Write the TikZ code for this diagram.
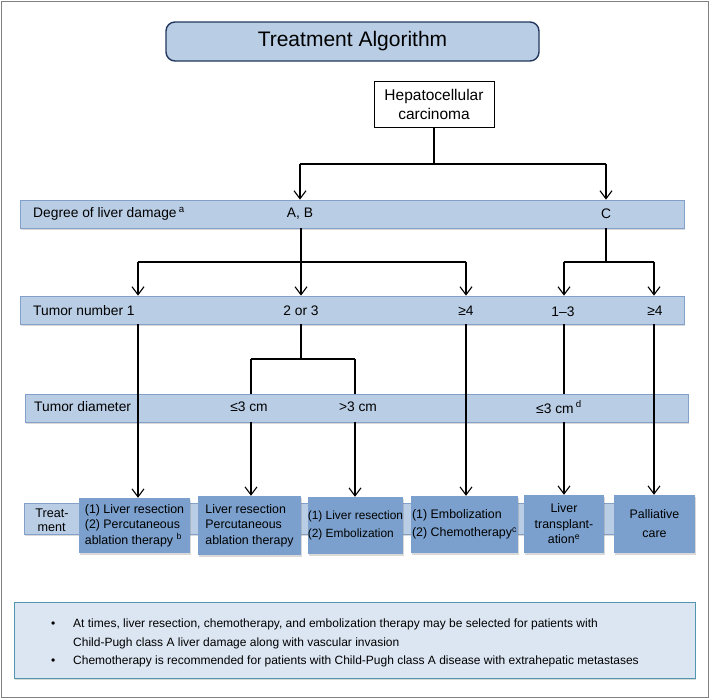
\documentclass[tikz,border=0pt]{standalone}
\usepackage{fontspec}
\setmainfont{Liberation Sans}
\usetikzlibrary{arrows.meta,shadows}
\definecolor{barfill}{RGB}{185,205,229}
\definecolor{barline}{RGB}{130,160,200}
\definecolor{boxfill}{RGB}{123,160,205}
\definecolor{titleline}{RGB}{35,55,95}
\definecolor{notefill}{RGB}{220,230,242}
\definecolor{noteline}{RGB}{80,150,175}
\definecolor{framegray}{RGB}{128,128,128}
\begin{document}
\begin{tikzpicture}[x=1pt,y=-1pt,
  shad/.style={drop shadow={shadow xshift=1pt,shadow yshift=-2pt,opacity=0.3}},
  bar/.style={draw=barline,fill=barfill,line width=0.8pt,inner sep=0pt,shad},
  tbox/.style={fill=boxfill,inner sep=0pt,align=left,shad,font=\fontsize{12.4}{15.5}\selectfont},
  lbl/.style={inner sep=0pt,font=\fontsize{13.8}{16}\selectfont},
  ln/.style={line width=1.1pt},
  arr/.style={ln,-{Straight Barb[length=8pt,width=12pt,line width=1.1pt]}}
]
\useasboundingbox (0,0) rectangle (710,699);
\draw[framegray,line width=1.2pt] (1.5,1.5) rectangle (708.5,697.5);

% title
\node[draw=titleline,fill=barfill,line width=1.4pt,rounded corners=9pt,minimum width=373pt,minimum height=39pt,inner sep=0pt,font=\fontsize{21}{24}\selectfont] (title) at (352.5,41.5) {Treatment Algorithm};

% start box
\node[draw=black,fill=white,line width=1pt,minimum width=120pt,minimum height=46pt,inner sep=0pt,align=center,font=\fontsize{15.5}{19}\selectfont] (hep) at (434,104) {Hepatocellular\\carcinoma};

% bars
\node[bar,minimum width=664pt,minimum height=28pt] (deg) at (352,214) {};
\node[bar,minimum width=664pt,minimum height=28pt] (tum) at (352,310) {};
\node[bar,minimum width=663pt,minimum height=28pt] (dia) at (356.5,408) {};
\node[bar,minimum width=666pt,minimum height=31pt] (trt) at (357,518.5) {};

% bar labels
\node[lbl,anchor=west] (degl) at (33,214) {Degree of liver damage\,\textsuperscript{a}};
\node[lbl] (ab) at (300,214) {A, B};
\node[lbl] (c) at (606,214) {C};
\node[lbl,anchor=west] (tuml) at (33,311) {Tumor number 1};
\node[lbl] (n23) at (301,311) {2 or 3};
\node[lbl] (n4a) at (466,311) {≥4};
\node[lbl] (n13) at (563,312) {1–3};
\node[lbl] (n4b) at (655,311) {≥4};
\node[lbl,anchor=west] (dial) at (34,407) {Tumor diameter};
\node[lbl] (d1) at (249,407) {≤3 cm};
\node[lbl] (d2) at (358,407) {>3 cm};
\node[lbl] (d3) at (559,407) {≤3 cm\,\textsuperscript{d}};
\node[inner sep=0pt,align=left,font=\fontsize{12.6}{13.5}\selectfont] (trtl) at (52,520) {Treat-\\\,ment};

% treatment boxes
\node[tbox,minimum width=111pt,minimum height=55pt] (b1) at (134.5,525.5) {(1) Liver resection\\(2) Percutaneous\\ablation therapy \textsuperscript{b}};
\node[tbox,minimum width=103pt,minimum height=59pt] (b2) at (249.5,525.5) {Liver resection\\Percutaneous\\ablation therapy};
\node[tbox,minimum width=95pt,minimum height=57pt,font=\fontsize{11.9}{18}\selectfont] (b3) at (355.5,525.5) {(1) Liver resection\\(2) Embolization};
\node[tbox,minimum width=107pt,minimum height=57pt,font=\fontsize{12.4}{18}\selectfont] (b4) at (464.5,524.5) {(1) Embolization\\(2) Chemotherapy\textsuperscript{c}};
\node[tbox,minimum width=80pt,minimum height=58pt,align=center] (b5) at (564,524) {Liver\\transplant-\\ation\textsuperscript{e}};
\node[tbox,minimum width=81pt,minimum height=58pt,align=center,font=\fontsize{12.4}{19}\selectfont] (b6) at (654.5,524) {Palliative\\care};

% level 1 connectors
\coordinate (j0) at (434,164);
\coordinate (jL) at (300,164);
\coordinate (jR) at (606,164);
\draw[ln] (hep.south) -- (j0);
\draw[ln] (jL) -- (jR);
\draw[arr] (jL) -- (jL |- deg.north);
\draw[arr] (jR) -- (jR |- deg.north);

% level 2 connectors
\coordinate (k0) at (301,262);
\coordinate (kL) at (138,262);
\coordinate (kR) at (466,262);
\draw[ln] (k0 |- deg.south) -- (k0);
\draw[ln] (kL) -- (kR);
\draw[arr] (kL) -- (kL |- tum.north);
\draw[arr] (k0) -- (k0 |- tum.north);
\draw[arr] (kR) -- (kR |- tum.north);
\coordinate (m0) at (606,262);
\coordinate (mL) at (564,262);
\coordinate (mR) at (654,262);
\draw[ln] (m0 |- deg.south) -- (m0);
\draw[ln] (mL) -- (mR);
\draw[arr] (mL) -- (mL |- tum.north);
\draw[arr] (mR) -- (mR |- tum.north);

% level 3 connectors
\coordinate (p0) at (301,359);
\coordinate (pL) at (251,359);
\coordinate (pR) at (355,359);
\draw[ln] (p0 |- tum.south) -- (p0);
\draw[ln] (pL) -- (pR);
\draw[ln] (pL) -- (pL |- dia.north);
\draw[ln] (pR) -- (pR |- dia.north);
\draw[arr] (pL |- dia.south) -- (pL |- b2.north);
\draw[arr] (pR |- dia.south) -- (pR |- b3.north);
\coordinate (q1) at (138,324);
\coordinate (q4) at (466,324);
\coordinate (q5) at (564,324);
\coordinate (q6) at (654,324);
\draw[arr] (q1 |- tum.south) -- (q1 |- b1.north);
\draw[arr] (q4 |- tum.south) -- (q4 |- b4.north);
\draw[ln] (q5 |- tum.south) -- (q5 |- dia.north);
\draw[arr] (q5 |- dia.south) -- (q5 |- b5.north);
\draw[arr] (q6 |- tum.south) -- (q6 |- b6.north);

% note box
\node[draw=noteline,fill=notefill,line width=1pt,minimum width=681pt,minimum height=76pt,inner sep=0pt,shad] (note) at (354.5,640) {};
\begin{scope}[every node/.style={inner sep=0pt,anchor=base west,font=\fontsize{12}{14}\selectfont}]
\node (bu1) at (51,627) {•};
\node (t1a) at (73,627) {At times, liver resection, chemotherapy, and embolization therapy may be selected for patients with};
\node (t1b) at (73,646) {Child-Pugh class A liver damage along with vascular invasion};
\node (bu2) at (51,664) {•};
\node (t2) at (73,664) {Chemotherapy is recommended for patients with Child-Pugh class A disease with extrahepatic metastases};
\end{scope}
\end{tikzpicture}
\end{document}
